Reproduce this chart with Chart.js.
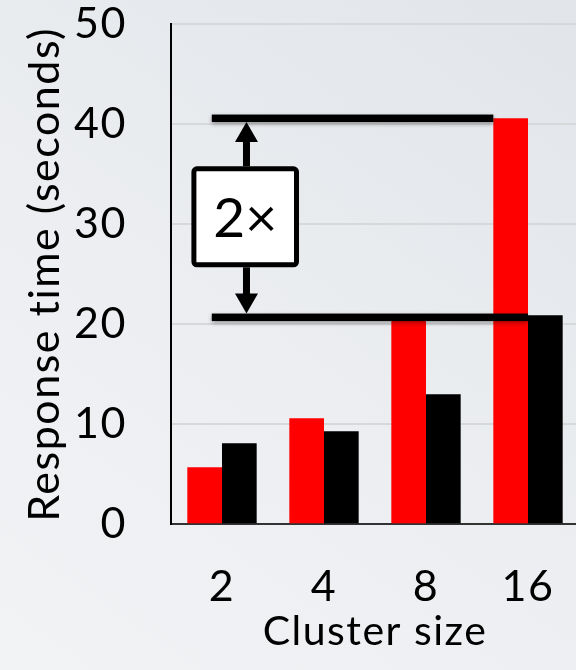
<!DOCTYPE html>
<html>
<head>
<meta charset="utf-8">
<script src="https://cdn.jsdelivr.net/npm/chart.js@4/dist/chart.umd.min.js"></script>
<style>
  html, body { margin: 0; padding: 0; overflow: hidden; width: 576px; height: 670px; }
  body { background: linear-gradient(35deg, #f2f3f5 0%, #eceef1 45%, #e1e5e9 100%); }
  #wrap { position: relative; width: 576px; height: 670px; overflow: hidden; }
  canvas { display: block; }
</style>
</head>
<body>
<div id="wrap"><canvas id="c" width="600" height="670" style="width:600px;height:670px"></canvas></div>
<script>
// Response time per cluster size
const clusterSizes = ['2', '4', '8', '16'];
const redTimes = [5.7, 10.6, 20.6, 40.6];
const blackTimes = [8.1, 9.3, 13.0, 20.9];
const yTicks = [0, 10, 20, 30, 40, 50];
const speedupLabel = '2\u00d7';

const FONT = 'Lato, "Open Sans", sans-serif';

// Slightly looser letter spacing for the axis text
const textSpacing = {
  id: 'textSpacing',
  beforeDraw(chart) { chart.ctx.letterSpacing = '1.5px'; },
  beforeDatasetsDraw(chart) { chart.ctx.letterSpacing = '0px'; }
};

// Bracket showing the gap between the tallest red bar and the tallest black bar
const speedupBracket = {
  id: 'speedupBracket',
  afterDatasetsDraw(chart) {
    const ctx = chart.ctx;
    const x = chart.scales.x;
    const y = chart.scales.y;
    const last = clusterSizes.length - 1;
    const redBar = chart.getDatasetMeta(0).data[last];
    const topY = y.getPixelForValue(redTimes[last]);
    const lowY = y.getPixelForValue(blackTimes[last]) + 2;
    const startX = x.getPixelForValue(-0.1);
    const arrowX = x.getPixelForValue(0.24);
    const lw = 7.5;

    ctx.save();
    ctx.letterSpacing = '0px';
    // horizontal reference lines with soft shadow
    ctx.shadowColor = 'rgba(0,0,0,0.35)';
    ctx.shadowBlur = 4;
    ctx.shadowOffsetY = 2;
    ctx.fillStyle = '#000';
    ctx.fillRect(startX, topY - lw / 2, (redBar.x - redBar.width / 2) - startX, lw);
    ctx.fillRect(startX, lowY - lw / 2, (redBar.x + redBar.width / 2) - startX, lw);
    ctx.shadowColor = 'transparent';

    // label box geometry
    const boxL = x.getPixelForValue(-0.3);
    const boxR = x.getPixelForValue(0.755);
    const midY = (topY + lowY) / 2;
    const boxH = 101;
    const boxT = midY - boxH / 2 - 1;
    const boxB = boxT + boxH;

    // arrow shafts
    const shaft = 7;
    const headW = 23, headH = 20;
    const upTip = topY + lw / 2;
    const downTip = lowY - lw / 2;
    ctx.fillRect(arrowX - shaft / 2, upTip + headH - 1, shaft, boxT - (upTip + headH - 1));
    ctx.fillRect(arrowX - shaft / 2, boxB, shaft, downTip - headH + 1 - boxB);
    // arrow heads
    ctx.beginPath();
    ctx.moveTo(arrowX, upTip);
    ctx.lineTo(arrowX - headW / 2, upTip + headH);
    ctx.lineTo(arrowX + headW / 2, upTip + headH);
    ctx.closePath();
    ctx.fill();
    ctx.beginPath();
    ctx.moveTo(arrowX, downTip);
    ctx.lineTo(arrowX - headW / 2, downTip - headH);
    ctx.lineTo(arrowX + headW / 2, downTip - headH);
    ctx.closePath();
    ctx.fill();

    // white box with black border
    const bw = 5;
    ctx.beginPath();
    ctx.roundRect(boxL + bw / 2, boxT + bw / 2, boxR - boxL - bw, boxH - bw, 3);
    ctx.fillStyle = '#fff';
    ctx.fill();
    ctx.lineWidth = bw;
    ctx.strokeStyle = '#000';
    ctx.stroke();

    ctx.fillStyle = '#000';
    ctx.font = '55px ' + FONT;
    ctx.textAlign = 'center';
    ctx.textBaseline = 'middle';
    ctx.fillText(speedupLabel, (boxL + boxR) / 2, midY + 1);
    ctx.restore();
  }
};

new Chart(document.getElementById('c'), {
  type: 'bar',
  data: {
    labels: clusterSizes,
    datasets: [
      { data: redTimes, backgroundColor: '#ff0000', borderWidth: 0 },
      { data: blackTimes, backgroundColor: '#000000', borderWidth: 0 }
    ]
  },
  options: {
    responsive: false,
    animation: false,
    events: [],
    layout: { padding: { top: 24.3, right: 21, left: 0, bottom: 0 } },
    datasets: { bar: { categoryPercentage: 0.68, barPercentage: 1.0 } },
    plugins: { legend: { display: false }, tooltip: { enabled: false } },
    scales: {
      x: {
        grid: { display: false, drawTicks: false },
        border: { display: true, color: '#333', width: 2 },
        ticks: { color: '#000', font: { family: FONT, size: 43, lineHeight: 1 }, padding: 41, maxRotation: 0 },
        title: {
          display: true, text: 'Cluster size', color: '#000',
          font: { family: FONT, size: 41, lineHeight: 1.2 }, padding: { top: 0, bottom: 14 }
        },
        afterFit(s) { s.height = 145.7; s.paddingLeft = 0; s.paddingRight = 0; }
      },
      y: {
        min: 0, max: 50,
        afterBuildTicks(s) { s.ticks = yTicks.map(v => ({ value: v })); },
        grid: { color: '#d6d8da', lineWidth: 2, drawTicks: false },
        border: { display: true, color: '#000', width: 2 },
        ticks: { color: '#000', font: { family: FONT, size: 43, lineHeight: 1 }, padding: 44 },
        title: {
          display: true, text: 'Response time (seconds)', color: '#000',
          font: { family: FONT, size: 43, lineHeight: 1.2 }, padding: { top: 19, bottom: 0 }
        },
        afterFit(s) { s.width = 171; s.paddingTop = 0; s.paddingBottom = 0; }
      }
    }
  },
  plugins: [textSpacing, speedupBracket]
});
</script>
</body>
</html>
